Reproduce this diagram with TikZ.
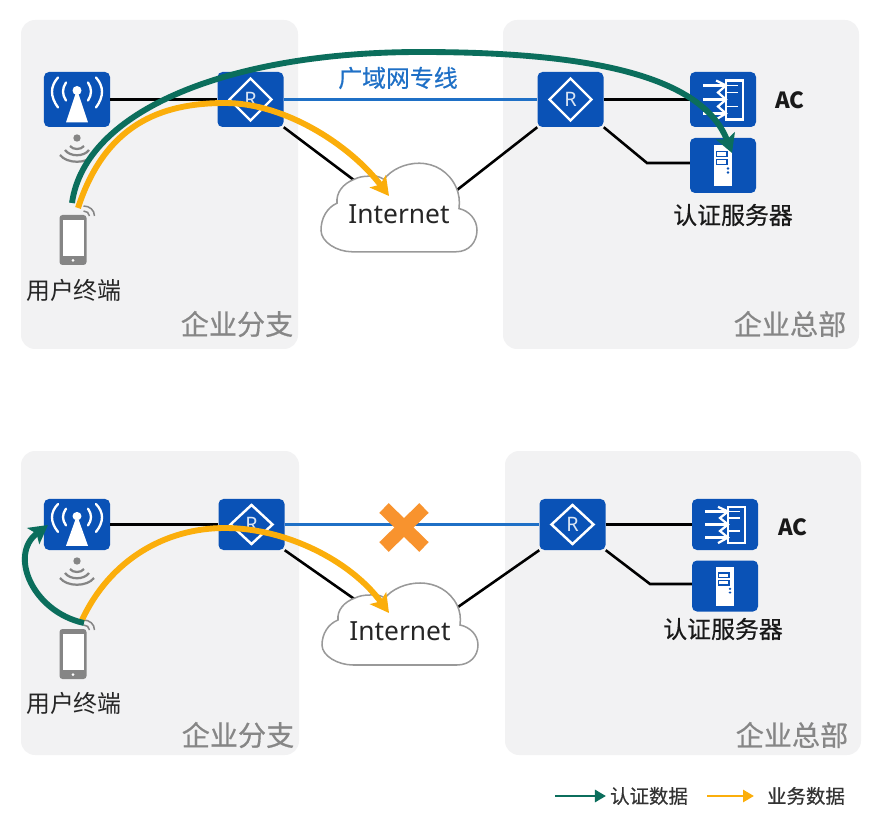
\documentclass[tikz,border=0pt]{standalone}
\usepackage{fontspec}
\setmainfont{Noto Sans}
\newfontfamily\cjk{Noto Sans CJK SC}
\newfontfamily\cjkmed[FakeBold=0.5]{Noto Sans CJK SC}
\usetikzlibrary{arrows.meta}

\definecolor{panelgray}{HTML}{F2F2F3}
\definecolor{devblue}{HTML}{0A52B6}
\definecolor{wanblue}{HTML}{1F70C6}
\definecolor{authgreen}{HTML}{0B6E5C}
\definecolor{dataamber}{HTML}{FBAE0B}
\definecolor{crossorange}{HTML}{F8932E}
\definecolor{glyphgray}{HTML}{858585}

\tikzset{
    panel/.style={fill=panelgray, rounded corners=0.42cm},
    devbox/.style={fill=devblue, rounded corners=0.15cm, inner sep=0pt, minimum width=1.98cm, minimum height=1.65cm, text=white!85!devblue, font=\fontsize{17}{17}\selectfont},
    devboxlow/.style={devbox, minimum height=1.53cm},
    wire/.style={black, line width=2.2pt},
    wanwire/.style={wanblue, line width=2.2pt},
    authflow/.style={authgreen, line width=5pt, -{Stealth[length=0.55cm, width=0.6cm, inset=0.12cm]}},
    dataflow/.style={dataamber, line width=5pt, -{Stealth[length=0.55cm, width=0.6cm, inset=0.12cm]}},
    keyauth/.style={authgreen, line width=2.4pt, -{Triangle[length=0.33cm, width=0.36cm]}},
    keydata/.style={dataamber, line width=2.4pt, -{Triangle[length=0.33cm, width=0.36cm]}},
    sitelabel/.style={text=gray!95, font=\cjkmed\fontsize{24}{24}\selectfont},
    devlabel/.style={text=black!85, font=\cjk\fontsize{20.4}{24}\selectfont},
    boldlabel/.style={text=black!90, font=\cjkmed\fontsize{20.4}{24}\selectfont},
    aclabel/.style={text=black!90, font=\cjk\bfseries\fontsize{19}{24}\selectfont},
    keylabel/.style={text=black!80, font=\cjkmed\fontsize{16.6}{20}\selectfont},
    % Device glyphs
    apglyph/.pic={
        \fill[white] (0,-9) circle (4.5);
        \fill[white] (-1,-7) -- (1,-7) -- (11,23) -- (-11,23) -- cycle;
        \draw[white, line width=2pt, line cap=round] (-11,-17) .. controls (-15,-11) and (-15,-5) .. (-11,1);
        \draw[white, line width=2pt, line cap=round] (11,-17) .. controls (15,-11) and (15,-5) .. (11,1);
        \draw[white, line width=2pt, line cap=round] (-19,-22) .. controls (-27,-13) and (-27,-3) .. (-19,8);
        \draw[white, line width=2pt, line cap=round] (19,-22) .. controls (27,-13) and (27,-3) .. (19,8);
    },
    routerglyph/.pic={
        \draw[white, line width=2.1pt] (-21,0) -- (0,-21) -- (21,0) -- (0,21) -- cycle;
    },
    acglyph/.pic={
        \draw[white, line width=1.9pt] (3,-19) rectangle (20,20);
        \foreach \y in {-14,0,14} \draw[white, line width=1.9pt] (-20,\y) -- (3,\y);
        \draw[white, line width=1.9pt] (-7,-19) -- (3,-14) -- (-5,-7) -- (3,0) -- (-5,7) -- (3,14) -- (-7,20);
        \foreach \y in {-14,-7,7} \draw[white, line width=1.5pt] (3,\y) -- (15,\y);
    },
    serverglyph/.pic={
        \fill[white] (-9,-20) rectangle (9,21);
        \draw[devblue, line width=1pt] (-6.5,-14) rectangle (4,-9);
        \draw[devblue, line width=1pt] (-6.5,-6) rectangle (4,-1);
        \fill[devblue] (5,3) circle (1.3) (5,7) circle (1.3);
    },
    wavesglyph/.pic={
        \fill[glyphgray] (0,0) circle (3.7);
        \draw[glyphgray, line width=1.9pt] (-7,8) .. controls (-4,12) and (4,12) .. (7,8);
        \draw[glyphgray, line width=1.9pt] (-12,12) .. controls (-7,19) and (7,19) .. (12,12);
        \draw[glyphgray, line width=1.9pt] (-17,17) .. controls (-10,26) and (10,26) .. (17,17);
    },
    phoneglyph/.pic={
        \fill[glyphgray, rounded corners=0.09cm] (-13,-25) rectangle (14,25);
        \fill[white] (-10,-20) rectangle (11,16);
        \fill[white] (0.5,20.5) circle (1.5);
        \draw[glyphgray, line width=1.3pt] (11,-34) .. controls (17,-34) and (22,-30) .. (22,-24);
        \draw[glyphgray, line width=1.3pt] (11,-29) .. controls (14,-29) and (17,-27) .. (17,-24);
    },
    cloudglyph/.pic={
        \draw[fill=white, draw=gray!80, line width=1.3pt] (-47,41) -- (57,41)
            .. controls (70,41) and (78,32) .. (78,21) .. controls (78,11) and (70,3) .. (60,1)
            .. controls (61,-6) and (60,-13) .. (57,-19) .. controls (50,-33) and (36,-41) .. (20,-41)
            .. controls (6,-41) and (-8,-35) .. (-15,-26) .. controls (-20,-29) and (-25,-30) .. (-30,-29)
            .. controls (-36,-29) and (-41,-28) .. (-45,-26) .. controls (-56,-22) and (-63,-14) .. (-62,-4)
            .. controls (-72,0) and (-78,10) .. (-78,21) .. controls (-78,32) and (-62,41) .. (-47,41) -- cycle;
    }
}

\begin{document}
\begin{tikzpicture}[x=0.03cm, y=-0.03cm]
    \useasboundingbox (0,0) rectangle (886,821);

    % Site panels
    \fill[panel] (21,20) rectangle (298,349);
    \fill[panel] (503,20) rectangle (859,349);
    \fill[panel] (21,451) rectangle (299,755);
    \fill[panel] (505,451) rectangle (861,755);

    % Upper network: devices
    \node[devbox] (apA) at (77,99.5) {};
    \node[devbox] (routerA) at (250.5,99.5) {R};
    \node[devbox] (routerB) at (570.5,99.5) {R};
    \node[devbox] (acA) at (723,99.5) {};
    \node[devbox] (serverA) at (723,165.5) {};
    \coordinate (cloudA) at (399,214);
    \coordinate (cloudAr) at (457,190);
    \coordinate (bendA) at (647,163);

    % Upper network: links
    \draw[wire] (apA) -- (routerA);
    \draw[wanwire] (routerA) -- (routerB);
    \draw[wire] (routerB) -- (acA);
    \draw[wire] (routerB.south east) -- (bendA) -- (serverA.west |- bendA);
    \draw[wire] (routerA.south east) -- (cloudA);
    \draw[wire] (routerB.south west) -- (cloudAr);
    \pic at (399,207.5) [yscale=1.08] {cloudglyph};
    \node[font=\fontsize{22.5}{24}\selectfont, text=black!85] (netA) at (399,214) {Internet};

    % Upper network: glyphs and labels
    \pic at (apA) {apglyph};
    \pic at (routerA) {routerglyph};
    \pic at (routerB) {routerglyph};
    \pic at (acA) {acglyph};
    \pic at (serverA) {serverglyph};
    \pic at (77,138) {wavesglyph};
    \pic at (72.5,240) {phoneglyph};
    \node[text=wanblue, font=\cjkmed\fontsize{20.4}{24}\selectfont] (wanlabel) at (398,78) {广域网专线};
    \node[devlabel] (phoneA) at (74,290) {用户终端};
    \node[aclabel] (acAlabel) at (790,100) {AC};
    \node[boldlabel] (serverAlabel) at (733,215) {认证服务器};
    \node[sitelabel] (branchA) at (237,324) {企业分支};
    \node[sitelabel] (hqA) at (790,324) {企业总部};

    % Upper network: flows
    \coordinate (authAa) at (72,203);
    \coordinate (authAb) at (420,52);
    \coordinate (authAc) at (732,153);
    \draw[authflow] (authAa) .. controls (85,110) and (230,52) .. (authAb) .. controls (570,52) and (700,70) .. (authAc);
    \coordinate (dataAa) at (78,208);
    \coordinate (dataAb) at (225,103);
    \coordinate (dataAc) at (389,196);
    \draw[dataflow] (dataAa) .. controls (105,125) and (160,103) .. (dataAb) .. controls (285,103) and (350,145) .. (dataAc);

    % Lower network: devices
    \node[devboxlow] (apB) at (77,524.5) {};
    \node[devboxlow] (routerC) at (251.5,524.5) {R};
    \node[devboxlow] (routerD) at (572.5,524.5) {R};
    \node[devboxlow] (acB) at (725,524.5) {};
    \node[devboxlow] (serverB) at (725,586) {};
    \coordinate (cloudB) at (400,631);
    \coordinate (cloudBr) at (458,607);
    \coordinate (bendB) at (650,584);

    % Lower network: links
    \draw[wire] (apB) -- (routerC);
    \draw[wanwire] (routerC) -- (routerD);
    \draw[wire] (routerD) -- (acB);
    \draw[wire] (routerD.south east) -- (bendB) -- (serverB.west |- bendB);
    \draw[wire] (routerC.south east) -- (cloudB);
    \draw[wire] (routerD.south west) -- (cloudBr);
    \pic at (400,624) {cloudglyph};
    \node[font=\fontsize{22.5}{24}\selectfont, text=black!85] (netB) at (400,631) {Internet};

    % Broken link
    \draw[crossorange, line width=11.5pt] (384,508) -- (424,547);
    \draw[crossorange, line width=11.5pt] (424,508) -- (384,547);

    % Lower network: glyphs and labels
    \pic at (apB) [yscale=0.93] {apglyph};
    \pic at (routerC) [yscale=0.93] {routerglyph};
    \pic at (routerD) [yscale=0.93] {routerglyph};
    \pic at (acB) [yscale=0.93] {acglyph};
    \pic at (serverB) [yscale=0.93] {serverglyph};
    \pic at (77,561) {wavesglyph};
    \pic at (72.5,654) {phoneglyph};
    \node[devlabel] (phoneB) at (74,703) {用户终端};
    \node[aclabel] (acBlabel) at (793,527) {AC};
    \node[boldlabel] (serverBlabel) at (723,629) {认证服务器};
    \node[sitelabel] (branchB) at (238,735) {企业分支};
    \node[sitelabel] (hqB) at (792,735) {企业总部};

    % Lower network: flows
    \coordinate (dataBa) at (82,620);
    \coordinate (dataBb) at (225,528);
    \coordinate (dataBc) at (389,613);
    \draw[dataflow] (dataBa) .. controls (110,560) and (165,528) .. (dataBb) .. controls (285,528) and (350,560) .. (dataBc);
    \coordinate (authBa) at (84,623);
    \coordinate (authBb) at (48,525);
    \draw[authflow] (authBa) .. controls (33,612) and (8,555) .. (authBb);

    % Legend
    \node[keylabel] (keyauthlabel) at (649,796) {认证数据};
    \node[keylabel] (keydatalabel) at (806,796) {业务数据};
    \coordinate (keyautha) at (555,796);
    \coordinate (keydataa) at (707,796);
    \coordinate (keydatab) at (754,796);
    \draw[keyauth] (keyautha) -- (keyauthlabel.west);
    \draw[keydata] (keydataa) -- (keydatab);
\end{tikzpicture}
\end{document}
